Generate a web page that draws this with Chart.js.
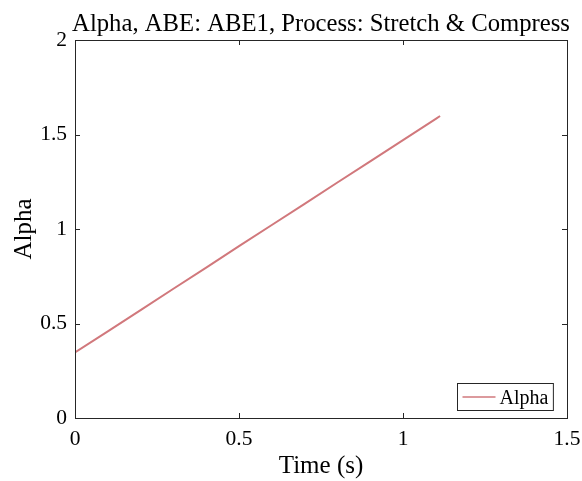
<!DOCTYPE html>
<html>
<head>
<meta charset="utf-8">
<script src="https://cdn.jsdelivr.net/npm/chart.js@4/dist/chart.umd.min.js"></script>
<style>
  html, body { margin: 0; padding: 0; background: #fff; }
  #wrap { width: 582px; height: 481px; }
</style>
</head>
<body>
<div id="wrap"><canvas id="c" width="582" height="481"></canvas></div>
<script>
// Alpha estimate over time for ABE1 (stretch & compress process)
const timeSec = [0, 0.1, 0.2, 0.3, 0.4, 0.5, 0.6, 0.7, 0.8, 0.9, 1.0, 1.1, 1.113];
const alphaVals = [0.347, 0.458, 0.571, 0.684, 0.796, 0.909, 1.021, 1.133, 1.246, 1.358, 1.470, 1.583, 1.598];
const xTicks = [0, 0.5, 1, 1.5];
const yTicks = [0, 0.5, 1, 1.5, 2];
const chartTitle = 'Alpha, ABE: ABE1, Process: Stretch & Compress';

const FONT = '"Liberation Serif", "Times New Roman", serif';
const LINE_COLOR = 'rgb(209,120,124)';
const AXIS_COLOR = '#262626';

// Title over the plot box, box outline, inward ticks and in-plot legend
const boxPlugin = {
  id: 'boxPlugin',
  afterDatasetsDraw(chart) {
    const { ctx, chartArea: a, scales } = chart;
    ctx.save();

    ctx.fillStyle = '#000';
    ctx.font = '24.7px ' + FONT;
    ctx.textAlign = 'center';
    ctx.textBaseline = 'alphabetic';
    ctx.fillText(chartTitle, (a.left + a.right) / 2, 31);

    ctx.strokeStyle = AXIS_COLOR;
    ctx.lineWidth = 1;
    ctx.strokeRect(Math.round(a.left) + 0.5, Math.round(a.top) + 0.5,
                   Math.round(a.right - a.left), Math.round(a.bottom - a.top));
    const tl = 5;
    ctx.beginPath();
    xTicks.forEach(v => {
      const x = Math.round(scales.x.getPixelForValue(v)) + 0.5;
      ctx.moveTo(x, a.bottom); ctx.lineTo(x, a.bottom - tl);
      ctx.moveTo(x, a.top); ctx.lineTo(x, a.top + tl);
    });
    yTicks.forEach(v => {
      const y = Math.round(scales.y.getPixelForValue(v)) + 0.5;
      ctx.moveTo(a.left, y); ctx.lineTo(a.left + tl, y);
      ctx.moveTo(a.right, y); ctx.lineTo(a.right - tl, y);
    });
    ctx.stroke();

    // legend box in the lower-right corner
    const ds = chart.data.datasets[0];
    ctx.font = '20px ' + FONT;
    ctx.textAlign = 'left';
    const tw = ctx.measureText(ds.label).width;
    const bw = 42 + tw + 5, bh = 27;
    const bx = Math.round(a.right - 14 - bw) + 0.5;
    const by = Math.round(a.bottom - 8 - bh) + 0.5;
    ctx.fillStyle = '#fff';
    ctx.fillRect(bx, by, bw, bh);
    ctx.strokeStyle = AXIS_COLOR;
    ctx.strokeRect(bx, by, bw, bh);
    ctx.strokeStyle = ds.borderColor;
    ctx.lineWidth = 1.5;
    ctx.beginPath();
    ctx.moveTo(bx + 5, by + bh / 2); ctx.lineTo(bx + 38, by + bh / 2);
    ctx.stroke();
    ctx.fillStyle = '#000';
    ctx.textBaseline = 'alphabetic';
    ctx.fillText(ds.label, bx + 42, by + bh / 2 + 7);
    ctx.restore();
  }
};

new Chart(document.getElementById('c'), {
  type: 'line',
  data: {
    datasets: [{
      label: 'Alpha',
      data: timeSec.map((t, i) => ({ x: t, y: alphaVals[i] })),
      borderColor: LINE_COLOR,
      borderWidth: 2,
      pointRadius: 0,
      tension: 0,
      fill: false
    }]
  },
  options: {
    responsive: false,
    animation: false,
    layout: { padding: { left: 0, right: 15, top: 40, bottom: 0 } },
    plugins: {
      legend: { display: false },
      tooltip: { enabled: false },
      title: { display: false }
    },
    scales: {
      x: {
        type: 'linear',
        min: 0, max: 1.5,
        afterBuildTicks(s) { s.ticks = xTicks.map(v => ({ value: v })); },
        afterFit(s) { s.height = 63; s.paddingLeft = 0; s.paddingRight = 0; },
        grid: { display: false, drawTicks: false },
        border: { display: false },
        ticks: { color: '#000', font: { family: FONT, size: 21.5 }, padding: 8, maxRotation: 0,
                 callback: v => String(v) },
        title: { display: true, text: 'Time (s)', color: '#000',
                 font: { family: FONT, size: 25 }, padding: { top: 0, bottom: 0 } }
      },
      y: {
        type: 'linear',
        min: 0, max: 2,
        afterBuildTicks(s) { s.ticks = yTicks.map(v => ({ value: v })); },
        afterFit(s) { s.width = 75; s.paddingTop = 0; s.paddingBottom = 0; },
        grid: { display: false, drawTicks: false },
        border: { display: false },
        ticks: { color: '#000', font: { family: FONT, size: 21.5 }, padding: 8,
                 callback: v => String(v) },
        title: { display: true, text: 'Alpha', color: '#000',
                 font: { family: FONT, size: 25 }, padding: { top: 9, bottom: 0 } }
      }
    }
  },
  plugins: [boxPlugin]
});
</script>
</body>
</html>
